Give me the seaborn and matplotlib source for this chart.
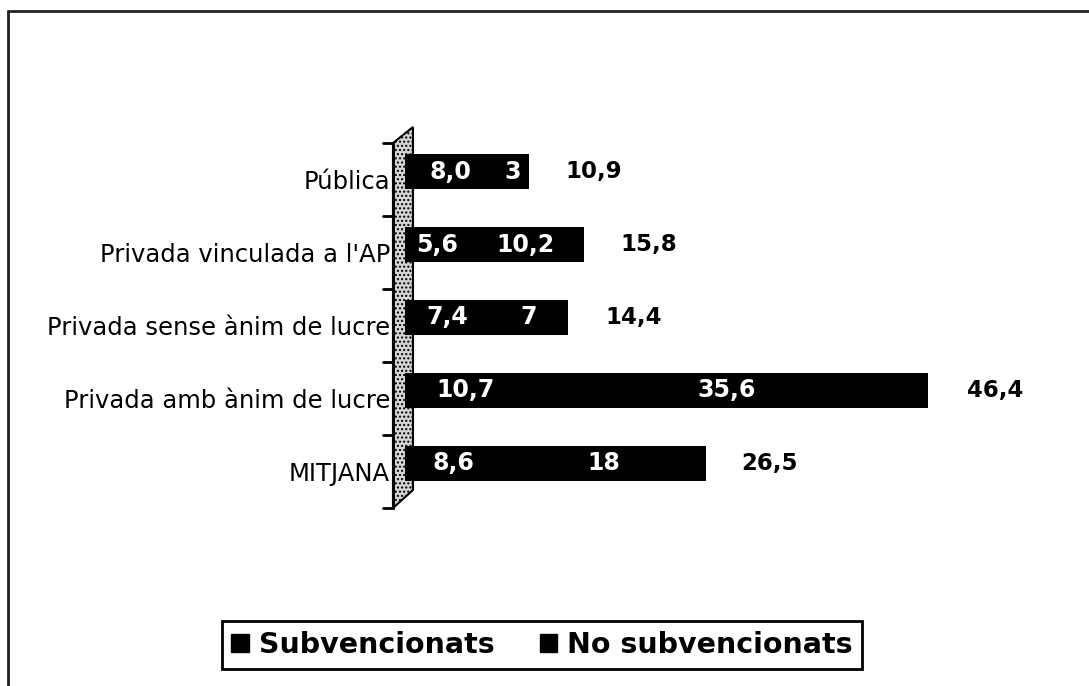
import numpy as np
import pandas as pd
import seaborn as sns
import matplotlib
matplotlib.use("Agg")
import matplotlib.pyplot as plt
from matplotlib.patches import Patch, Polygon
from matplotlib.lines import Line2D
from matplotlib.transforms import ScaledTranslation

# ---- data ----
categories = ["Pública", "Privada vinculada a l'AP", "Privada sense ànim de lucre",
              "Privada amb ànim de lucre", "MITJANA"]
subvencionats = [8.0, 5.6, 7.4, 10.7, 8.6]
no_subvencionats = [3, 10.2, 7, 35.6, 18]
totals = [10.9, 15.8, 14.4, 46.4, 26.5]
series_names = ["Subvencionats", "No subvencionats"]

W, H = 1089, 686
sns.set_theme(style="white")
plt.rcParams["font.family"] = ["DejaVu Sans"]
plt.rcParams["text.color"] = "black"
plt.rcParams["axes.labelcolor"] = "black"
plt.rcParams["ytick.color"] = "black"
plt.rcParams["legend.labelcolor"] = "black"

fig = plt.figure(figsize=(W / 100, H / 100), dpi=100)
fig.patch.set_facecolor("white")


def fx(px):
    return px / W


def fy(py):
    return 1 - py / H


# axes placement (pixels)
ax_left, ax_right = 405, 1026.5
ax_top, ax_bottom = 135.5, 499.5
ax = fig.add_axes([fx(ax_left), fy(ax_bottom), fx(ax_right - ax_left), (ax_bottom - ax_top) / H])

df = pd.DataFrame({"cat": categories, "subv": subvencionats, "nosubv": no_subvencionats})
df["stack"] = df["subv"] + df["nosubv"]

sns.barplot(data=df, y="cat", x="stack", color="black", saturation=1, width=0.48,
            orient="h", ax=ax, edgecolor="black", linewidth=0)
sns.barplot(data=df, y="cat", x="subv", color="black", saturation=1, width=0.48,
            orient="h", ax=ax, edgecolor="black", linewidth=0)

ax.set_xlim(0, 55)
ax.set_ylim(4.5, -0.5)
for s in ax.spines.values():
    s.set_visible(False)
ax.set_xticks([])
ax.set_xlabel("")
ax.set_ylabel("")
ax.set_facecolor("none")
ax.tick_params(axis="y", length=0, pad=10.8, labelsize=17.5, labelcolor="black")
ax.set_yticks(range(len(categories)))
ax.set_yticklabels(categories)
for lab in ax.get_yticklabels():
    lab.set_transform(lab.get_transform() + ScaledTranslation(0, -8 / 100, fig.dpi_scale_trans))

# inside labels
sub_labels = [f"{v:.1f}".replace(".", ",") for v in subvencionats]
ax.bar_label(ax.containers[1], labels=sub_labels, label_type="center",
             color="white", fontsize=17, fontweight="bold")
for i, (a, b) in enumerate(zip(subvencionats, no_subvencionats)):
    ax.text(a + b / 2, i, f"{b:g}".replace(".", ","), ha="center", va="center",
            color="white", fontsize=17, fontweight="bold")
# totals
for i, t in enumerate(totals):
    ax.text(t + 5.8, i, f"{t:.1f}".replace(".", ","), ha="center", va="center",
            color="black", fontsize=16.5, fontweight="bold")

# 3D wall on the left
wall = Polygon([(fx(393), fy(143)), (fx(413), fy(127)), (fx(413), fy(490)), (fx(393), fy(508))],
               closed=True, transform=fig.transFigure, facecolor="#d4d4d4",
               edgecolor="black", linewidth=1.5, hatch="....", zorder=0)
fig.add_artist(wall)
ax.set_zorder(2)
fig.add_artist(Line2D([fx(393), fx(393)], [fy(143), fy(508)], color="black", lw=2.2))
for k in range(6):
    y = 143 + 73 * k
    fig.add_artist(Line2D([fx(383), fx(393)], [fy(y), fy(y)], color="black", lw=2))

# figure frame (top & left)
fig.add_artist(Line2D([fx(8), 1], [fy(11), fy(11)], color="#222222", lw=2))
fig.add_artist(Line2D([fx(8), fx(8)], [fy(11), 0], color="#222222", lw=2))

# legend
handles = [Patch(facecolor="black", edgecolor="black"), Patch(facecolor="black", edgecolor="black")]
leg = fig.legend(handles, series_names, loc="center", bbox_to_anchor=(fx(542), fy(645)),
                 ncol=2, frameon=True, fancybox=False, edgecolor="black", framealpha=1,
                 prop={"weight": "bold", "size": 20.5}, handlelength=0.6, handleheight=0.6,
                 handletextpad=0.35, columnspacing=1.6, borderpad=0.35, labelcolor="black")
leg.get_frame().set_linewidth(2)

fig.savefig("out.png", dpi=100, facecolor="white")
